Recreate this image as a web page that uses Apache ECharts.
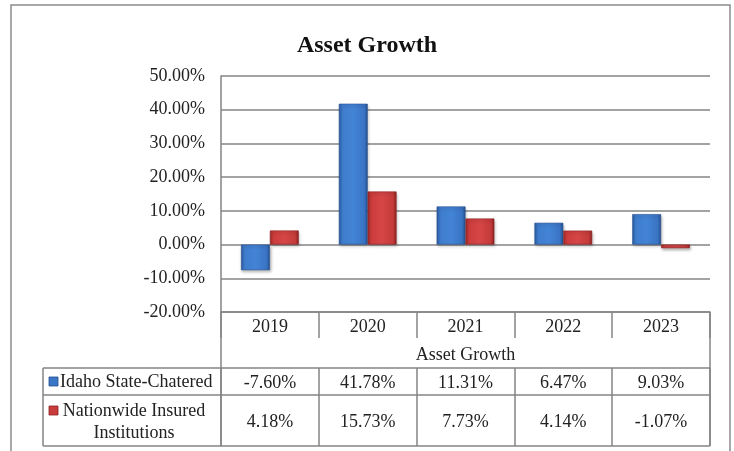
<!DOCTYPE html>
<html>
<head>
<meta charset="utf-8">
<script src="https://cdn.jsdelivr.net/npm/echarts@6/dist/echarts.min.js"></script>
<style>
  html, body { margin: 0; padding: 0; background: #fff; }
  #chart { width: 734px; height: 451px; }
</style>
</head>
<body>
<div id="chart"></div>
<script>
const years = ['2019', '2020', '2021', '2022', '2023'];
const idaho = [-7.60, 41.78, 11.31, 6.47, 9.03];
const nationwide = [4.18, 15.73, 7.73, 4.14, -1.07];
const seriesNames = ['Idaho State-Chatered', 'Nationwide Insured Institutions'];

const font = '"Liberation Serif", "Times New Roman", serif';
const gridLine = '#858585';
const pct = v => v.toFixed(2) + '%';

const chart = echarts.init(document.getElementById('chart'));

const blueFill = new echarts.graphic.LinearGradient(0, 0, 1, 0, [
  { offset: 0, color: '#2a5da4' },
  { offset: 0.12, color: '#3f7ccc' },
  { offset: 0.5, color: '#4384d6' },
  { offset: 0.88, color: '#3a74c4' },
  { offset: 1, color: '#24518f' }
]);
const redFill = new echarts.graphic.LinearGradient(0, 0, 1, 0, [
  { offset: 0, color: '#a32a2a' },
  { offset: 0.12, color: '#cc3c3c' },
  { offset: 0.5, color: '#d64646' },
  { offset: 0.88, color: '#c43a3a' },
  { offset: 1, color: '#8e2222' }
]);

const axisText = { fontFamily: font, fontSize: 18, color: '#222' };

const option = {
  animation: false,
  title: {
    text: 'Asset Growth',
    left: 'center',
    top: 29,
    textStyle: { fontFamily: font, fontSize: 24, fontWeight: 'bold', color: '#111' }
  },
  grid: { left: 221, right: 24, top: 76, bottom: 139, containLabel: false },
  xAxis: [
    {
      type: 'category',
      data: years,
      position: 'bottom',
      axisLine: { onZero: false, lineStyle: { color: gridLine, width: 1.5 } },
      axisTick: { show: true, length: 26, lineStyle: { color: gridLine, width: 1.5 } },
      axisLabel: Object.assign({ margin: 6 }, axisText),
      name: 'Asset Growth',
      nameLocation: 'middle',
      nameGap: 34,
      nameTextStyle: axisText
    },
    {
      type: 'category',
      data: years,
      position: 'bottom',
      offset: 56,
      axisLine: { onZero: false, lineStyle: { color: gridLine, width: 1.5 } },
      axisTick: { show: true, length: 78, lineStyle: { color: gridLine, width: 1.5 } },
      axisLabel: Object.assign({ margin: 6, formatter: (v, i) => pct(idaho[i]) }, axisText)
    },
    {
      type: 'category',
      data: years,
      position: 'bottom',
      offset: 83,
      axisLine: { onZero: false, lineStyle: { color: gridLine, width: 1.5 } },
      axisTick: { show: false },
      axisLabel: Object.assign({ margin: 18, formatter: (v, i) => pct(nationwide[i]) }, axisText)
    }
  ],
  yAxis: {
    type: 'value',
    min: -20,
    max: 50,
    interval: 10,
    axisLine: { show: true, lineStyle: { color: gridLine, width: 1.5 } },
    axisTick: { show: false },
    axisLabel: Object.assign({ margin: 16, formatter: v => pct(v) }, axisText),
    splitLine: { lineStyle: { color: gridLine, width: 1.5 } }
  },
  series: [
    {
      name: seriesNames[0],
      type: 'bar',
      data: idaho,
      barWidth: '29.5%',
      barGap: '0%',
      itemStyle: {
        color: blueFill,
        borderColor: '#2a5090',
        borderWidth: 0.6,
        shadowColor: 'rgba(0,0,0,0.3)',
        shadowBlur: 3,
        shadowOffsetX: 1,
        shadowOffsetY: 2
      }
    },
    {
      name: seriesNames[1],
      type: 'bar',
      data: nationwide,
      barWidth: '29.5%',
      barGap: '0%',
      itemStyle: {
        color: redFill,
        borderColor: '#8a2020',
        borderWidth: 0.6,
        shadowColor: 'rgba(0,0,0,0.3)',
        shadowBlur: 3,
        shadowOffsetX: 1,
        shadowOffsetY: 2
      }
    }
  ],
  graphic: [
    // outer frame
    { type: 'rect', shape: { x: 11, y: 5, width: 719, height: 470 },
      style: { fill: 'none', stroke: '#8c8c8c', lineWidth: 1.5 }, z: -1 },
    // table lines
    { type: 'line', shape: { x1: 43, y1: 368, x2: 221, y2: 368 }, style: { stroke: gridLine, lineWidth: 1.5 } },
    { type: 'line', shape: { x1: 43, y1: 395, x2: 221, y2: 395 }, style: { stroke: gridLine, lineWidth: 1.5 } },
    { type: 'line', shape: { x1: 43, y1: 446, x2: 710, y2: 446 }, style: { stroke: gridLine, lineWidth: 1.5 } },
    { type: 'line', shape: { x1: 43, y1: 368, x2: 43, y2: 446 }, style: { stroke: gridLine, lineWidth: 1.5 } },
    { type: 'line', shape: { x1: 221, y1: 312, x2: 221, y2: 446 }, style: { stroke: gridLine, lineWidth: 1.5 } },
    { type: 'line', shape: { x1: 710, y1: 312, x2: 710, y2: 446 }, style: { stroke: gridLine, lineWidth: 1.5 } },
    // legend keys
    { type: 'rect', shape: { x: 49, y: 377, width: 9, height: 9 },
      style: { fill: '#3a76c6', stroke: '#24508f', lineWidth: 0.8 } },
    { type: 'text', x: 60, y: 382,
      style: { text: seriesNames[0], font: '18px ' + font, fill: '#222', textVerticalAlign: 'middle' } },
    { type: 'rect', shape: { x: 49, y: 406, width: 9, height: 9 },
      style: { fill: '#c83c3c', stroke: '#8e2222', lineWidth: 0.8 } },
    { type: 'text', x: 134, y: 422,
      style: { text: 'Nationwide Insured\nInstitutions', font: '18px ' + font, fill: '#222',
        textAlign: 'center', textVerticalAlign: 'middle', lineHeight: 22 } }
  ]
};

chart.setOption(option);
</script>
</body>
</html>
